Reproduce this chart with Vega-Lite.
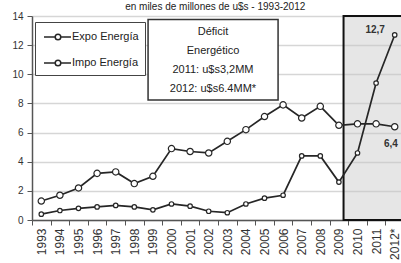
{
  "$schema": "https://vega.github.io/schema/vega-lite/v6.json",
  "width": 372,
  "height": 204,
  "autosize": {"type": "none"},
  "padding": {"left": 32, "top": 16, "right": 0, "bottom": 43},
  "background": "white",
  "config": {"view": {"stroke": null}, "font": "Liberation Sans"},
  "data": {"values": [
    {"year": 1993, "series": "Expo Energía", "value": 1.3},
    {"year": 1994, "series": "Expo Energía", "value": 1.7},
    {"year": 1995, "series": "Expo Energía", "value": 2.2},
    {"year": 1996, "series": "Expo Energía", "value": 3.2},
    {"year": 1997, "series": "Expo Energía", "value": 3.3},
    {"year": 1998, "series": "Expo Energía", "value": 2.5},
    {"year": 1999, "series": "Expo Energía", "value": 3.0},
    {"year": 2000, "series": "Expo Energía", "value": 4.9},
    {"year": 2001, "series": "Expo Energía", "value": 4.7},
    {"year": 2002, "series": "Expo Energía", "value": 4.6},
    {"year": 2003, "series": "Expo Energía", "value": 5.4},
    {"year": 2004, "series": "Expo Energía", "value": 6.2},
    {"year": 2005, "series": "Expo Energía", "value": 7.1},
    {"year": 2006, "series": "Expo Energía", "value": 7.9},
    {"year": 2007, "series": "Expo Energía", "value": 7.0},
    {"year": 2008, "series": "Expo Energía", "value": 7.8},
    {"year": 2009, "series": "Expo Energía", "value": 6.5},
    {"year": 2010, "series": "Expo Energía", "value": 6.6},
    {"year": 2011, "series": "Expo Energía", "value": 6.6},
    {"year": 2012, "series": "Expo Energía", "value": 6.4},
    {"year": 1993, "series": "Impo Energía", "value": 0.4},
    {"year": 1994, "series": "Impo Energía", "value": 0.65},
    {"year": 1995, "series": "Impo Energía", "value": 0.8},
    {"year": 1996, "series": "Impo Energía", "value": 0.9},
    {"year": 1997, "series": "Impo Energía", "value": 1.0},
    {"year": 1998, "series": "Impo Energía", "value": 0.9},
    {"year": 1999, "series": "Impo Energía", "value": 0.7},
    {"year": 2000, "series": "Impo Energía", "value": 1.1},
    {"year": 2001, "series": "Impo Energía", "value": 0.95},
    {"year": 2002, "series": "Impo Energía", "value": 0.6},
    {"year": 2003, "series": "Impo Energía", "value": 0.5},
    {"year": 2004, "series": "Impo Energía", "value": 1.1},
    {"year": 2005, "series": "Impo Energía", "value": 1.5},
    {"year": 2006, "series": "Impo Energía", "value": 1.7},
    {"year": 2007, "series": "Impo Energía", "value": 4.4},
    {"year": 2008, "series": "Impo Energía", "value": 4.4},
    {"year": 2009, "series": "Impo Energía", "value": 2.6},
    {"year": 2010, "series": "Impo Energía", "value": 4.6},
    {"year": 2011, "series": "Impo Energía", "value": 9.4},
    {"year": 2012, "series": "Impo Energía", "value": 12.7}
  ]},
  "layer": [
    {
      "data": {"values": [{}]},
      "mark": {"type": "rect", "fill": "#c8c8c8", "fillOpacity": 0.45, "stroke": "#111111", "strokeWidth": 2},
      "encoding": {
        "x": {
          "datum": 2009.25, "type": "quantitative",
          "scale": {"domain": [1992.5, 2012.5], "nice": false, "zero": false},
          "axis": {
            "title": null, "grid": false, "tickCount": 20,
            "format": "d",
            "labelExpr": "datum.value == 2012 ? '2012*' : datum.label",
            "tickOffset": -9.3, "labelOffset": 9.3,
            "labelAngle": 270, "labelFontSize": 12, "labelColor": "#333333", "labelPadding": 3,
            "domainColor": "#555555", "domainWidth": 1.5, "tickColor": "#555555", "tickSize": 5, "tickWidth": 1,
            "labelOverlap": false, "labelBound": false, "labelFlush": false
          }
        },
        "x2": {"datum": 2013.5},
        "y": {
          "datum": 0, "type": "quantitative",
          "scale": {"domain": [0, 14], "nice": false},
          "axis": {
            "title": null, "tickCount": 7, "labelOverlap": false,
            "grid": true, "gridColor": "#d6d6d6", "gridWidth": 1.5,
            "domainColor": "#555555", "domainWidth": 1.5, "tickColor": "#555555", "tickSize": 5,
            "labelFontSize": 10, "labelColor": "#333333", "labelPadding": 4
          }
        },
        "y2": {"datum": 14}
      }
    },
    {
      "mark": {"type": "line", "strokeWidth": 1.7},
      "encoding": {
        "x": {"field": "year", "type": "quantitative"},
        "y": {"field": "value", "type": "quantitative"},
        "stroke": {
          "field": "series", "type": "nominal",
          "scale": {"range": ["#262626", "#262626"]},
          "legend": {
            "orient": "none", "legendX": 3, "legendY": 6, "title": null,
            "strokeColor": "#444444", "fillColor": "white", "padding": 6, "rowPadding": 11,
            "symbolType": "M-0.75,0H0.65M1.35,0H2.625M0.65,0A0.35,0.35 0 1,1 1.35,0A0.35,0.35 0 1,1 0.65,0Z",
            "symbolSize": 256, "symbolStrokeWidth": 1.5, "symbolFillColor": "white",
            "labelFontSize": 11, "labelColor": "#222222", "labelOffset": 13
          }
        }
      }
    },
    {
      "mark": {"type": "point", "shape": "circle", "filled": true, "fill": "white", "stroke": "#262626", "strokeWidth": 1.2, "opacity": 1},
      "encoding": {
        "x": {"field": "year", "type": "quantitative"},
        "y": {"field": "value", "type": "quantitative"},
        "size": {"field": "series", "type": "ordinal", "scale": {"range": [40, 20]}, "legend": null}
      }
    },
    {
      "data": {"values": [{}]},
      "mark": {"type": "text", "text": "12,7", "fontSize": 10, "fontWeight": "bold", "color": "#333333"},
      "encoding": {"x": {"datum": 2010.95, "type": "quantitative"}, "y": {"datum": 13.05, "type": "quantitative"}}
    },
    {
      "data": {"values": [{}]},
      "mark": {"type": "text", "text": "6,4", "fontSize": 10, "fontWeight": "bold", "color": "#333333", "align": "left"},
      "encoding": {"x": {"datum": 2011.42, "type": "quantitative"}, "y": {"datum": 5.2, "type": "quantitative"}}
    },
    {
      "data": {"values": [{}]},
      "mark": {"type": "rect", "fill": "white", "stroke": "#333333", "strokeWidth": 1.5},
      "encoding": {
        "x": {"datum": 1998.74, "type": "quantitative"},
        "x2": {"datum": 2005.73},
        "y": {"datum": 8.24, "type": "quantitative"},
        "y2": {"datum": 13.76}
      }
    },
    {
      "data": {"values": [{}]},
      "mark": {"type": "text", "text": ["Déficit", "Energético", "2011: u$s3,2MM", "2012: u$s6.4MM*"], "lineHeight": 19, "fontSize": 11, "baseline": "alphabetic", "align": "center", "color": "#222222"},
      "encoding": {"x": {"datum": 2002.23, "type": "quantitative"}, "y": {"datum": 12.73, "type": "quantitative"}}
    },
    {
      "data": {"values": [{}]},
      "mark": {"type": "text", "text": "en miles de millones de u$s - 1993-2012", "fontSize": 10, "baseline": "bottom", "align": "center", "color": "#222222"},
      "encoding": {"x": {"datum": 2002.35, "type": "quantitative"}, "y": {"datum": 14.3, "type": "quantitative"}}
    }
  ]
}
